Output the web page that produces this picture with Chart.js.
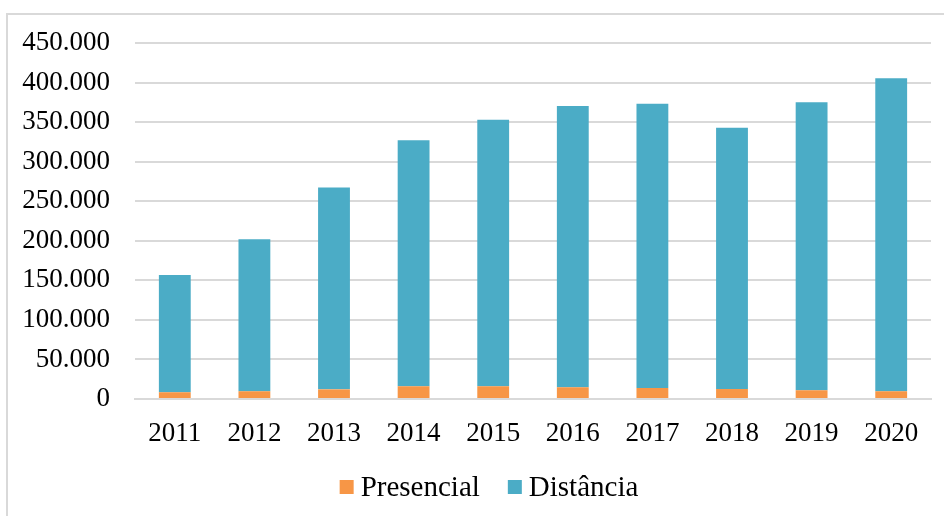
<!DOCTYPE html>
<html>
<head>
<meta charset="utf-8">
<script src="https://cdn.jsdelivr.net/npm/chart.js@4/dist/chart.umd.min.js"></script>
<style>
  html, body { margin: 0; padding: 0; background: #fff; }
  #wrap { position: relative; width: 944px; height: 516px; overflow: hidden; }
  #frame { position: absolute; left: 6px; top: 13px; width: 1000px; height: 600px;
           border-left: 2px solid #d9d9d9; border-top: 2px solid #d9d9d9; }
  canvas { position: absolute; left: 0; top: 0; }
</style>
</head>
<body>
<div id="wrap">
  <div id="frame"></div>
  <canvas id="c" width="944" height="516"></canvas>
</div>
<script>
const categories = ['2011','2012','2013','2014','2015','2016','2017','2018','2019','2020'];
const presencial = [8500, 9700, 12200, 16000, 16000, 14800, 13900, 12600, 11000, 9700];
const distancia = [148100, 192300, 255100, 311000, 337000, 355500, 359400, 330400, 364000, 395600];
const yTickLabels = ['0','50.000','100.000','150.000','200.000','250.000','300.000','350.000','400.000','450.000'];
const seriesNames = ['Presencial', 'Distância'];

const FONT = 'Liberation Serif';

// Legend drawn from the chart's datasets (Excel-like spacing)
const bottomLegend = {
  id: 'bottomLegend',
  afterDraw(chart) {
    const ctx = chart.ctx;
    const box = 14, gapText = 7, gapItem = 28, centerX = 489, centerY = 487;
    ctx.save();
    ctx.font = '29px "' + FONT + '"';
    ctx.textBaseline = 'middle';
    const items = chart.data.datasets.map(d => ({ text: d.label, color: d.backgroundColor, w: ctx.measureText(d.label).width }));
    let total = 0;
    items.forEach((it, i) => { total += box + gapText + it.w + (i ? gapItem : 0); });
    let x = centerX - total / 2;
    items.forEach((it, i) => {
      if (i) x += gapItem;
      ctx.fillStyle = it.color;
      ctx.fillRect(x, centerY - box / 2, box, box);
      x += box + gapText;
      ctx.fillStyle = '#000';
      ctx.fillText(it.text, x, centerY + 1);
      x += it.w;
    });
    ctx.restore();
  }
};

new Chart(document.getElementById('c'), {
  type: 'bar',
  data: {
    labels: categories,
    datasets: [
      { label: seriesNames[0], data: presencial, backgroundColor: '#F79646', borderWidth: 0 },
      { label: seriesNames[1], data: distancia, backgroundColor: '#4BACC6', borderWidth: 0 }
    ]
  },
  options: {
    responsive: false,
    animation: false,
    devicePixelRatio: 1,
    layout: { padding: { left: 0, right: 13, top: 43, bottom: 52 } },
    datasets: { bar: { barPercentage: 1.0, categoryPercentage: 0.4 } },
    scales: {
      x: {
        stacked: true,
        grid: { display: false, drawTicks: false },
        border: { display: true, color: '#d9d9d9', width: 2 },
        ticks: { color: '#000', font: { family: FONT, size: 27 }, padding: 19 },
        afterFit: (s) => { s.height = 65; }
      },
      y: {
        stacked: true,
        min: 0, max: 450000,
        grid: { color: '#d9d9d9', lineWidth: 2, drawTicks: false },
        border: { display: false },
        ticks: {
          stepSize: 50000,
          color: '#000',
          font: { family: FONT, size: 27 },
          padding: 25,
          callback: (v, i) => yTickLabels[i]
        },
        afterFit: (s) => { s.width = 135; }
      }
    },
    plugins: {
      legend: { display: false },
      tooltip: { enabled: false }
    }
  },
  plugins: [bottomLegend]
});
</script>
</body>
</html>
